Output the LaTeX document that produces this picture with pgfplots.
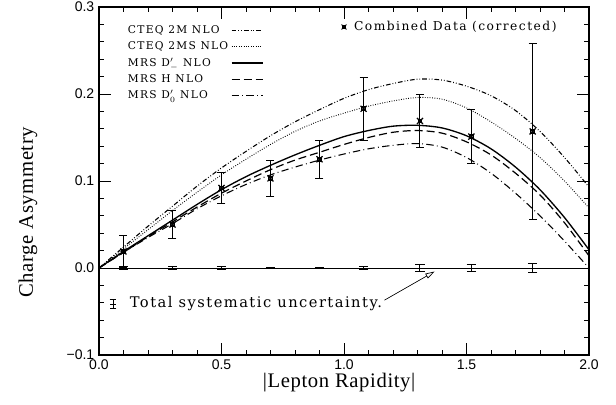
\documentclass[border=0pt]{standalone}
\usepackage{pgfplots}
\pgfplotsset{compat=1.18}
\usepackage{pgfplotstable}
\usetikzlibrary{arrows.meta}
\usepackage{fontspec}
\setmainfont{DejaVu Serif}
\newfontfamily\labfont[LetterSpace=3]{Liberation Serif}
\newfontfamily\legfont[LetterSpace=12]{DejaVu Serif}
\newfontfamily\txtfont[LetterSpace=10]{DejaVu Serif}
\newfontfamily\tickfont{Liberation Sans}

% combined data, symmetric errors
\pgfplotstableread{
x    y     e
0.10 0.019 0.018
0.30 0.050 0.016
0.50 0.092 0.0175
0.70 0.103 0.0205
0.90 0.125 0.022
1.08 0.183 0.0365
1.31 0.169 0.0305
1.52 0.151 0.031
1.77 0.157 0.101
}\datatab

% total systematic uncertainty, drawn at zero
\pgfplotstableread{
x    y   es
0.10 0.0 0.002
0.30 0.0 0.002
0.50 0.0 0.002
0.70 0.0 0.001
0.90 0.0 0.001
1.08 0.0 0.0015
1.31 0.0 0.004
1.52 0.0 0.004
1.77 0.0 0.005
}\systab

% NLO predictions
\pgfplotstableread{
x   c2m   c2ms  dm    h     d0
0.0 0.000 0.000 0.000 0.000 0.000
0.1 0.024 0.022 0.019 0.018 0.018
0.2 0.048 0.044 0.037 0.036 0.035
0.3 0.071 0.066 0.055 0.053 0.051
0.4 0.094 0.087 0.073 0.070 0.068
0.5 0.115 0.107 0.090 0.086 0.083
0.6 0.134 0.125 0.105 0.100 0.096
0.7 0.152 0.142 0.118 0.113 0.107
0.8 0.168 0.157 0.130 0.124 0.116
0.9 0.182 0.169 0.141 0.133 0.124
1.0 0.195 0.178 0.151 0.142 0.131
1.1 0.205 0.186 0.158 0.150 0.137
1.2 0.212 0.192 0.163 0.156 0.141
1.3 0.217 0.196 0.164 0.158 0.143
1.4 0.216 0.194 0.161 0.155 0.139
1.5 0.209 0.184 0.152 0.145 0.127
1.6 0.198 0.168 0.137 0.130 0.109
1.7 0.181 0.149 0.116 0.109 0.086
1.8 0.157 0.127 0.090 0.084 0.060
1.9 0.127 0.100 0.058 0.052 0.031
2.0 0.093 0.069 0.021 0.014 0.000
}\curves

\begin{document}
\begin{tikzpicture}
\begin{axis}[
    width=367.5pt, height=261pt, scale only axis,
    xmin=0, xmax=2, ymin=-0.1, ymax=0.3,
    xtick={0,0.5,1,1.5,2}, xticklabels={0.0,0.5,1.0,1.5,2.0},
    ytick={-0.1,0,0.1,0.2,0.3}, yticklabels={−0.1,0.0,0.1,0.2,0.3},
    minor x tick num=4, minor y tick num=4,
    tick align=inside,
    major tick length=9pt, minor tick length=4pt,
    every tick/.style={black, line width=0.6pt},
    axis line style={line width=0.8pt},
    tick label style={font=\tickfont\fontsize{10.5}{12}\selectfont},
    xlabel={|Lepton Rapidity|}, ylabel={Charge Asymmetry},
    label style={font=\labfont\fontsize{15.5}{18}\selectfont},
    xlabel style={at={(rel axis cs:0.49,-0.08)}, anchor=center},
    ylabel style={at={(rel axis cs:-0.145,0.41)}, anchor=center},
    legend style={at={(rel axis cs:0.045,0.962)}, anchor=north west,
        draw=none, fill=none, row sep=0.6pt,
        font=\legfont\fontsize{8}{9.5}\selectfont},
    legend cell align=left, legend plot pos=right,
    legend image code/.code={\draw[#1] (0cm,0cm) -- (0.82cm,0cm);},
]
\addplot[black, line width=0.8pt, smooth,
    dash pattern=on 3.5pt off 1.5pt on 0.6pt off 1.5pt on 0.6pt off 1.5pt]
    table[x=x, y=c2m] {\curves};
\addlegendentry{CTEQ 2M NLO}
\addplot[black, line width=0.7pt, smooth, dash pattern=on 0.6pt off 1.2pt]
    table[x=x, y=c2ms] {\curves};
\addlegendentry{CTEQ 2MS NLO}
\addplot[black, line width=1pt, smooth]
    table[x=x, y=dm] {\curves};
\addlegendentry{MRS D$^{\prime}_{-}$ NLO}
\addplot[black, line width=0.9pt, smooth, dash pattern=on 6pt off 3pt]
    table[x=x, y=h] {\curves};
\addlegendentry{MRS H NLO}
\addplot[black, line width=0.8pt, smooth,
    dash pattern=on 5.5pt off 2.5pt on 0.6pt off 2.5pt]
    table[x=x, y=d0] {\curves};
\addlegendentry{MRS D$^{\prime}_{0}$ NLO}

% zero line
\addplot[black, line width=0.6pt, forget plot] coordinates {(0,0) (2,0)};

% systematic uncertainty bars
\addplot[draw=none, mark=none, forget plot,
    error bars/.cd, y dir=both, y explicit,
    error bar style={black, line width=0.7pt},
    error mark options={black, rotate=90, mark size=3.5pt, line width=0.7pt}]
    table[x=x, y=y, y error=es] {\systab};

% combined data
\addplot[black, only marks, mark=x, mark size=3.2pt, line width=0.9pt, forget plot,
    error bars/.cd, y dir=both, y explicit,
    error bar style={black, line width=0.7pt},
    error mark options={black, rotate=90, mark size=3pt, line width=0.7pt}]
    table[x=x, y=y, y error=e] {\datatab};
\addplot[black, only marks, mark=square, mark size=1.4pt, line width=0.8pt, forget plot]
    table[x=x, y=y] {\datatab};

% key for the data
\addplot[black, only marks, mark=x, mark size=2.6pt, line width=0.7pt, forget plot]
    coordinates {(1.0,0.277)};
\addplot[black, only marks, mark=square, mark size=1.1pt, line width=0.6pt, forget plot]
    coordinates {(1.0,0.277)};
\node[anchor=west, font=\legfont\fontsize{9.2}{11}\selectfont, inner sep=0pt]
    at (axis cs:1.04,0.277) {Combined Data (corrected)};

% key for systematics
\addplot[black, only marks, mark=-, mark size=2pt, line width=0.6pt, forget plot,
    error bars/.cd, y dir=both, y explicit,
    error bar style={black, line width=0.6pt},
    error mark options={black, rotate=90, mark size=2.5pt, line width=0.6pt}]
    coordinates {(0.057,-0.0414) +- (0,0.005)};
\node[anchor=west, font=\txtfont\fontsize{11}{13}\selectfont, inner sep=0pt]
    at (axis cs:0.125,-0.0414) {Total systematic uncertainty.};
\draw[-{Triangle[open, length=7pt, width=4pt]}, line width=0.5pt]
    (axis cs:1.165,-0.037) -- (axis cs:1.37,-0.004);

\coordinate (bl) at (rel axis cs:-0.202,-0.1408);
\coordinate (tr) at (rel axis cs:1.0551,1.0201);
\end{axis}
\pgfresetboundingbox
\path (bl) rectangle (tr);
\end{tikzpicture}
\end{document}
